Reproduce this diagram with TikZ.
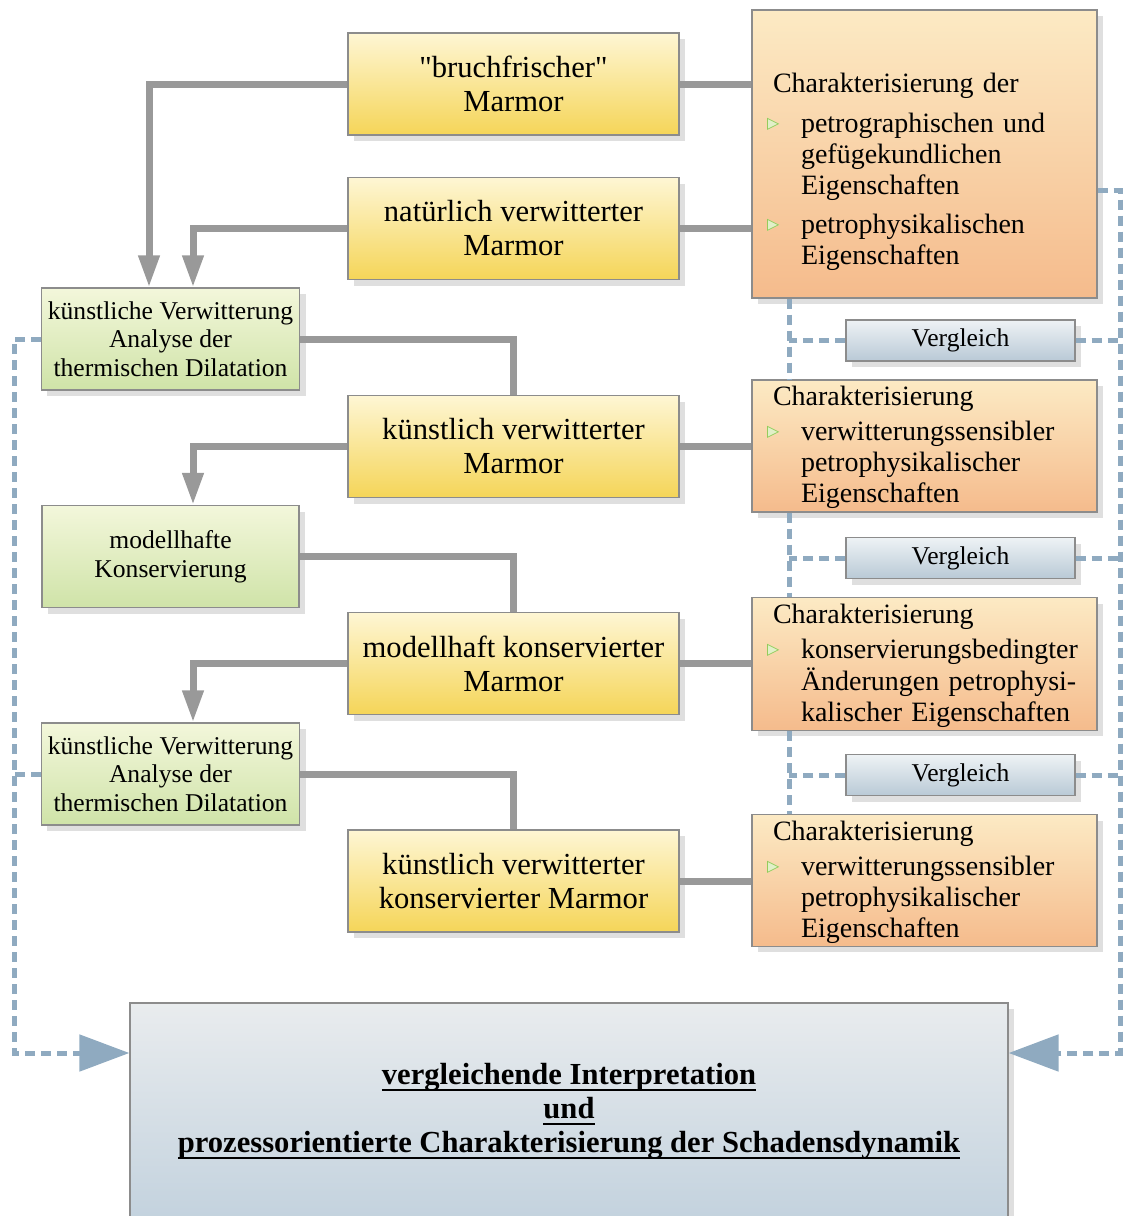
\documentclass[tikz,border=0pt]{standalone}
\usepackage{fontspec}
\setmainfont{Liberation Serif}
\newfontfamily\rohfont{Liberation Serif}[Ligatures=TeXOff]
\newfontfamily\symfont{DejaVu Sans}
\usetikzlibrary{arrows.meta,shadows}
\definecolor{mgelb}{RGB}{245,213,88}
\definecolor{mcreme}{RGB}{254,246,212}
\definecolor{corange}{RGB}{245,187,140}
\definecolor{chell}{RGB}{252,234,196}
\definecolor{kgruen}{RGB}{207,227,168}
\definecolor{khell}{RGB}{243,247,219}
\definecolor{vblau}{RGB}{185,201,214}
\definecolor{vhell}{RGB}{238,242,245}
\definecolor{ihell}{RGB}{233,236,238}
\definecolor{iblau}{RGB}{195,210,222}
\definecolor{strich}{RGB}{143,170,192}
\definecolor{rahmen}{RGB}{140,140,140}
\definecolor{dreieck}{RGB}{140,200,80}
\definecolor{dreieckhell}{RGB}{225,240,200}
\newcommand{\tri}{\hspace*{-3pt}\raisebox{2pt}{\symfont\fontsize{8}{8}\selectfont
    \rlap{\textcolor{dreieckhell}{▶}}\textcolor{dreieck}{▷}}}
\newcommand{\unterstr}[1]{\setbox0\hbox{#1}\rlap{\rule[-3pt]{\wd0}{1pt}}\box0}

\begin{document}
\begin{tikzpicture}[x=0.5pt,y=-0.5pt,
    kasten/.style={draw=rahmen, line width=0.6pt,
        drop shadow={shadow xshift=3pt, shadow yshift=-3pt, fill=black!25}},
    marmor/.style={kasten, top color=mcreme, bottom color=mgelb,
        minimum width=165.5pt, minimum height=51pt, align=center,
        font=\fontsize{15.3}{17}\selectfont},
    charak/.style={kasten, top color=chell, bottom color=corange,
        inner xsep=10.5pt, inner ysep=0.9pt, text width=151.5pt, align=left,
        font=\fontsize{14}{15.5}\selectfont},
    verw/.style={kasten, top color=khell, bottom color=kgruen,
        minimum width=128.5pt, minimum height=51pt, align=center,
        font=\fontsize{12.8}{14.25}\selectfont},
    vergl/.style={kasten, top color=vhell, bottom color=vblau,
        minimum width=114.5pt, minimum height=20.5pt,
        font=\fontsize{12.8}{14}\selectfont},
    interp/.style={kasten, top color=ihell, bottom color=iblau,
        minimum width=439pt, minimum height=108.5pt, align=center,
        font=\bfseries\fontsize{15.3}{17}\selectfont},
    lnk/.style={draw=black!40, line width=3.5pt},
    pfeil/.style={lnk, -{Triangle[length=16pt,width=10pt]}},
    vgl/.style={draw=strich, line width=2.5pt, dash pattern=on 5pt off 3pt},
    vglpfeil/.style={vgl, -{Triangle[length=25pt,width=18pt]}}]
\useasboundingbox (0,0) rectangle (1128,1216);

% Marmor
\node[marmor] (M1) at (513.5,84) {{\rohfont"}bruchfrischer{\rohfont"}\\Marmor};
\node[marmor] (M2) at (513.5,228.5) {natürlich verwitterter\\Marmor};
\node[marmor] (M3) at (513.5,446.5) {künstlich verwitterter\\Marmor};
\node[marmor] (M4) at (513.5,663.5) {modellhaft konservierter\\Marmor};
\node[marmor] (M5) at (513.5,881) {künstlich verwitterter\\konservierter Marmor};

% Behandlung
\node[verw] (K1) at (170.5,339) {künstliche Verwitterung\\Analyse der\\thermischen Dilatation};
\node[verw] (K2) at (170.5,556.5) {modellhafte\\Konservierung};
\node[verw] (K3) at (170.5,774) {künstliche Verwitterung\\Analyse der\\thermischen Dilatation};

% Charakterisierung
\node[charak, minimum height=144pt] (C1) at (924.5,154) {\begin{tabular}{@{}p{14pt}@{}l@{}}
    \multicolumn{2}{@{}l@{}}{\rule{0pt}{29pt}Charakterisierung der}\\[4.5pt]
    \tri & petrographischen und\\
    & gefügekundlichen\\
    & Eigenschaften\\[4pt]
    \tri & petrophysikalischen\\
    & Eigenschaften
\end{tabular}};
\node[charak, minimum height=66pt] (C2) at (924.5,446) {\begin{tabular}{@{}p{14pt}@{}l@{}}
    \multicolumn{2}{@{}l@{}}{\rule{0pt}{12pt}Charakterisierung}\\[2pt]
    \tri & verwitterungssensibler\\
    & petrophysikalischer\\
    & Eigenschaften\\[-1pt]
\end{tabular}};
\node[charak, minimum height=66pt] (C3) at (924.5,664) {\begin{tabular}{@{}p{14pt}@{}l@{}}
    \multicolumn{2}{@{}l@{}}{\rule{0pt}{12pt}Charakterisierung}\\[2pt]
    \tri & konservierungsbedingter\\
    & Änderungen petrophysi-\\
    & kalischer Eigenschaften\\[-1pt]
\end{tabular}};
\node[charak, minimum height=65.5pt] (C4) at (924.5,880.5) {\begin{tabular}{@{}p{14pt}@{}l@{}}
    \multicolumn{2}{@{}l@{}}{\rule{0pt}{12pt}Charakterisierung}\\[2pt]
    \tri & verwitterungssensibler\\
    & petrophysikalischer\\
    & Eigenschaften\\[-1pt]
\end{tabular}};

% Vergleich
\node[vergl] (V1) at (960.5,340.5) {Vergleich};
\node[vergl] (V2) at (960.5,558) {Vergleich};
\node[vergl] (V3) at (960.5,775) {Vergleich};

% Interpretation
\node[interp] (I) at (569,1111.5) {\unterstr{vergleichende Interpretation}\\
    \unterstr{und}\\
    \unterstr{prozessorientierte Charakterisierung der Schadensdynamik}};

% Ablauf
\draw[pfeil] (M1.west) -| ([xshift=-10.75pt]K1.north);
\draw[pfeil] (M2.west) -| ([xshift=11.25pt]K1.north);
\draw[lnk] (K1.east) -| (M3.north);
\draw[pfeil] (M3.west) -| ([xshift=11.25pt]K2.north);
\draw[lnk] (K2.east) -| (M4.north);
\draw[pfeil] (M4.west) -| ([xshift=11.25pt]K3.north);
\draw[lnk] (K3.east) -| (M5.north);
\draw[lnk] (M1.east) -- (M1.east -| C1.west);
\draw[lnk] (M2.east) -- (M2.east -| C1.west);
\draw[lnk] (M3.east) -- (M3.east -| C2.west);
\draw[lnk] (M4.east) -- (M4.east -| C3.west);
\draw[lnk] (M5.east) -- (M5.east -| C4.west);

% Vergleiche
\coordinate (lu) at (14,1053);
\coordinate (ru) at (1120,1053);
\draw[vglpfeil] (K1.west) -| (lu) -- ([yshift=29.25pt]I.west);
\draw[vgl] (K3.west) -- (K3.west -| lu);
\draw[vglpfeil] ([yshift=-18pt]C1.east) -| (ru) -- ([yshift=29.25pt]I.east);
\draw[vgl] ([xshift=19pt]C1.south west) -- ([xshift=19pt]C2.north west);
\draw[vgl] ([xshift=19pt]C2.south west) -- ([xshift=19pt]C3.north west);
\draw[vgl] ([xshift=19pt]C3.south west) -- ([xshift=19pt]C4.north west);
\draw[vgl] (V1.west) -- ++(-56,0);
\draw[vgl] (V2.west) -- ++(-56,0);
\draw[vgl] (V3.west) -- ++(-56,0);
\draw[vgl] (V1.east) -- (V1.east -| ru);
\draw[vgl] (V2.east) -- (V2.east -| ru);
\draw[vgl] (V3.east) -- (V3.east -| ru);
\end{tikzpicture}
\end{document}
